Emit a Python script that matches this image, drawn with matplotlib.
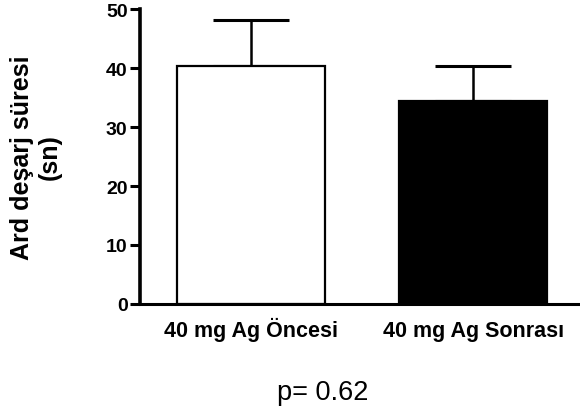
import matplotlib.pyplot as plt

# Veriler
groups = ['40 mg Ag Öncesi', '40 mg Ag Sonrası']
means = [40.3, 34.4]
sem = [7.9, 5.9]
colors = ['white', 'black']
yticks = [0, 10, 20, 30, 40, 50]

plt.rcParams['font.family'] = ['Liberation Sans', 'DejaVu Sans']

fig = plt.figure(figsize=(5.8, 4.14), dpi=100)
ax = fig.add_axes([0.2414, 0.2633, 0.7586, 0.7125])

x = list(range(len(groups)))
ax.bar(x, means, width=0.665, color=colors, edgecolor='black', linewidth=1.6, zorder=2)
ax.errorbar(x, means, yerr=[[0] * len(sem), sem], fmt='none', ecolor='black',
            elinewidth=1.8, capsize=27.5, capthick=2.2, zorder=1)

ax.set_xlim(-0.5, 1.48)
ax.set_ylim(0, 50)
ax.set_yticks(yticks)
ax.set_xticks(x)
ax.set_xticklabels(groups, fontsize=15.5, fontweight='bold')
ax.set_yticklabels([str(t) for t in yticks], fontsize=14, fontweight='bold')
for lbl in ax.get_xticklabels():
    lbl.set_va('baseline')

ax.spines['top'].set_visible(False)
ax.spines['right'].set_visible(False)
ax.spines['left'].set_linewidth(2.6)
ax.spines['bottom'].set_linewidth(2.2)
ax.tick_params(axis='y', length=7, width=2.2, pad=2)
ax.tick_params(axis='x', length=0, pad=22.8)

ax.set_ylabel('Ard deşarj süresi\n(sn)', fontsize=18, fontweight='bold', labelpad=32)

fig.text(0.557, 0.051, 'p= 0.62', fontsize=19.5, ha='center', va='center')

fig.savefig('out.png', dpi=100)
